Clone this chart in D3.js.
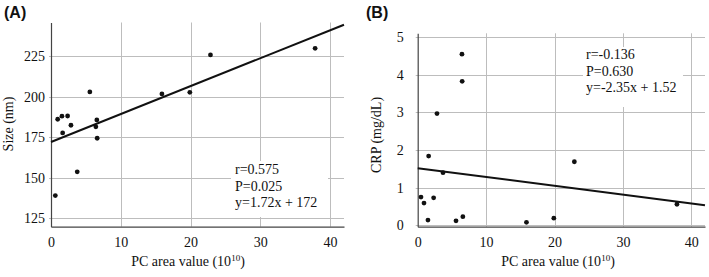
<!DOCTYPE html>
<html><head><meta charset="utf-8">
<script src="https://cdn.jsdelivr.net/npm/d3@7"></script>
<style>
body{margin:0;background:#fff;}
svg{display:block;}
</style></head>
<body>
<svg id="c" width="709" height="277"></svg>
<script>
// Panel A data: PC area value (10^10) vs Size (nm)
const pcA = [0.62, 0.96, 1.57, 1.67, 2.38, 2.86, 3.76, 5.57, 6.43, 6.57, 6.62, 15.9, 19.9, 22.86, 37.86];
const sizeA = [139, 186, 187.9, 177.6, 188, 182.3, 153.6, 202.8, 181.3, 185.6, 174.3, 201.6, 202.6, 225.6, 229.7];
// Panel B data: PC area value (10^10) vs CRP (mg/dL)
const pcB = [0.48, 0.92, 1.5, 1.6, 2.33, 2.82, 3.7, 5.6, 6.47, 6.5, 6.6, 15.9, 19.9, 22.9, 37.9];
const crpB = [0.75, 0.59, 0.14, 1.84, 0.73, 2.97, 1.40, 0.12, 4.55, 3.83, 0.23, 0.08, 0.19, 1.69, 0.56];
// Regression lines (intercept, slope per 10^10 unit)
const fitA = {a: 172, b: 1.72};
const fitB = {a: 1.52, b: -0.0235};
const xTicks = [0, 10, 20, 30, 40];
const yTicksA = [125, 150, 175, 200, 225];
const yTicksB = [0, 1, 2, 3, 4, 5];
const statsA = ["r=0.575", "P=0.025", "y=1.72x + 172"];
const statsB = ["r=-0.136", "P=0.630", "y=-2.35x + 1.52"];

const svg = d3.select("#c");
const serif = "'Liberation Serif','Times New Roman',serif";

function panel(o) {
  const x = d3.scaleLinear().domain([0, 42]).range([o.x0, o.x1]);
  const y = d3.scaleLinear().domain(o.yDom).range([o.yB, o.yT]);
  const g = svg.append("g");
  // gridlines
  g.append("g").selectAll("line").data(o.yTicks).join("line")
    .attr("x1", o.x0 - 2).attr("x2", o.x1)
    .attr("y1", d => Math.round(y(d)) + 0.5).attr("y2", d => Math.round(y(d)) + 0.5)
    .attr("stroke", "#bdbdbd").attr("stroke-width", 1);
  g.append("g").selectAll("line").data(xTicks.filter(d => d > 0)).join("line")
    .attr("x1", d => Math.round(x(d)) + 0.5).attr("x2", d => Math.round(x(d)) + 0.5)
    .attr("y1", o.yT).attr("y2", o.yB)
    .attr("stroke", "#bdbdbd").attr("stroke-width", 1);
  // stats box (white background)
  g.append("rect").attr("x", o.box[0]).attr("y", o.box[1]).attr("width", o.box[2]).attr("height", o.box[3]).attr("fill", "#fff");
  const t = g.append("text").attr("font-family", serif).attr("font-size", 14).attr("fill", "#111");
  o.stats.forEach((s, i) => {
    t.append("tspan").attr("x", o.tx).attr("y", o.ty + i * 16.5).text(s);
  });
  // axes
  const ax = g.append("g").attr("transform", `translate(0,${o.yB})`)
    .call(d3.axisBottom(x).tickValues(xTicks).tickSize(0).tickPadding(10).tickFormat(d3.format("d")));
  const ay = g.append("g").attr("transform", `translate(${o.x0},0)`)
    .call(d3.axisLeft(y).tickValues(o.yTicks).tickSize(0).tickPadding(o.yPad).tickFormat(d3.format("d")));
  [ax, ay].forEach(a => {
    a.selectAll("text").attr("font-family", serif).attr("font-size", 14).attr("fill", "#111");
    a.select(".domain").attr("stroke", "#444").attr("stroke-width", 1.2);
  });
  // regression line
  g.append("line")
    .attr("x1", x(0)).attr("y1", y(o.fit.a))
    .attr("x2", x(42)).attr("y2", y(o.fit.a + o.fit.b * 42))
    .attr("stroke", "#111").attr("stroke-width", 2);
  // points
  g.append("g").selectAll("circle").data(o.xs).join("circle")
    .attr("cx", d => x(d)).attr("cy", (d, i) => y(o.ys[i])).attr("r", 2.4).attr("fill", "#111");
  // labels
  g.append("text").attr("font-family", serif).attr("font-size", 14).attr("fill", "#111")
    .attr("text-anchor", "middle")
    .attr("transform", `translate(${o.ylx},${o.yly}) rotate(-90)`).text(o.ylab);
  const xl = g.append("text").attr("font-family", serif).attr("font-size", 14).attr("fill", "#111")
    .attr("text-anchor", "middle").attr("x", o.xlx).attr("y", 266);
  xl.append("tspan").text("PC area value (10");
  xl.append("tspan").attr("font-size", 9).attr("dy", -5).text("10");
  xl.append("tspan").attr("dy", 5).text(")");
  g.append("text").attr("font-family", "'Liberation Sans',Arial,sans-serif").attr("font-weight", "bold")
    .attr("font-size", 16).attr("fill", "#111").attr("x", o.titleX).attr("y", 18).text(o.title);
}

panel({x0: 51, x1: 344, yB: 226.7, yT: 22.5, yDom: [119.8, 245.6], yTicks: yTicksA, yPad: 6,
  xs: pcA, ys: sizeA, fit: fitA, stats: statsA, tx: 235, ty: 174, box: [231, 161, 97, 56],
  ylab: "Size (nm)", ylx: 13, yly: 124, xlx: 188, title: "(A)", titleX: 4});
panel({x0: 417.7, x1: 705, yB: 226.7, yT: 33.3, yDom: [-0.037, 5.106], yTicks: yTicksB, yPad: 14,
  xs: pcB, ys: crpB, fit: fitB, stats: statsB, tx: 586, ty: 59, box: [583, 47, 100, 60],
  ylab: "CRP (mg/dL)", ylx: 381, yly: 135, xlx: 558, title: "(B)", titleX: 366});
</script>
</body></html>
